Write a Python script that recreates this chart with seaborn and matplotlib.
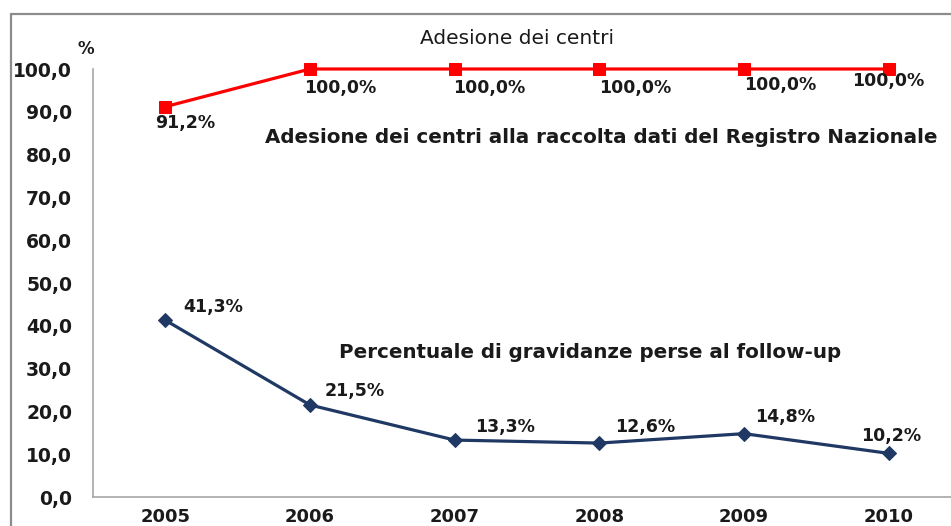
import matplotlib
matplotlib.use("Agg")
import matplotlib.pyplot as plt
import seaborn as sns
import pandas as pd
from matplotlib.lines import Line2D

years = [2005, 2006, 2007, 2008, 2009, 2010]
adesione = [91.2, 100.0, 100.0, 100.0, 100.0, 100.0]
perse = [41.3, 21.5, 13.3, 12.6, 14.8, 10.2]
adesione_labels = ["91,2%", "100,0%", "100,0%", "100,0%", "100,0%", "100,0%"]
perse_labels = ["41,3%", "21,5%", "13,3%", "12,6%", "14,8%", "10,2%"]
yticks = [0, 10, 20, 30, 40, 50, 60, 70, 80, 90, 100]
ytick_labels = ["0,0", "10,0", "20,0", "30,0", "40,0", "50,0", "60,0", "70,0", "80,0", "90,0", "100,0"]

sns.set_theme(style="white")
plt.rcParams["font.family"] = ["DejaVu Sans"]

W, H = 951, 526
fig = plt.figure(figsize=(W / 100, H / 100), dpi=100)
ax = fig.add_axes([93 / W, (H - 497) / H, (961 - 93) / W, (497 - 69) / H])

df_a = pd.DataFrame({"anno": years, "valore": adesione})
df_p = pd.DataFrame({"anno": years, "valore": perse})

red = "#FF0000"
navy = "#1F3864"
sns.lineplot(data=df_a, x="anno", y="valore", ax=ax, color=red, linewidth=2.3,
             marker="s", markersize=8, markeredgecolor=red, clip_on=False)
sns.lineplot(data=df_p, x="anno", y="valore", ax=ax, color=navy, linewidth=2.3,
             marker="D", markersize=7.5, markeredgecolor=navy, clip_on=False)

ax.set_xlim(2004.5, 2010.5)
ax.set_ylim(0, 100)
ax.set_xlabel("")
ax.set_ylabel("")

txt = "#1a1a1a"
# y axis
ax.set_yticks(yticks)
ax.set_yticklabels(ytick_labels, fontsize=13.5, fontweight="bold", color=txt)
# x axis: tick marks between categories, labels at centres
ax.set_xticks([y - 0.5 for y in years] + [years[-1] + 0.5])
ax.set_xticklabels([])
ax.set_xticks(years, minor=True)
ax.set_xticklabels([str(y) for y in years], minor=True, fontsize=13,
                   fontweight="bold", color=txt)
ax.tick_params(axis="x", which="minor", length=0, pad=8)
ax.tick_params(axis="x", which="major", direction="out", length=5, width=1, color="#A6A6A6")
ax.tick_params(axis="y", direction="out", length=6, width=1, color="#A6A6A6", pad=9)

for s in ["top", "right"]:
    ax.spines[s].set_visible(False)
for s in ["left", "bottom"]:
    ax.spines[s].set_color("#A6A6A6")
    ax.spines[s].set_linewidth(1.2)
ax.grid(False)

# data labels
a_off = [(20, -16), (30, -19), (35, -19), (36, -19), (36, -16), (0, -12)]
p_off = [(48, 13), (45, 14), (50, 13), (46, 16), (41, 17), (2, 17)]
for x, y, lab, off in zip(years, adesione, adesione_labels, a_off):
    ax.annotate(lab, (x, y), xytext=off, textcoords="offset pixels",
                ha="center", va="center", fontsize=12.5, fontweight="bold", color=txt)
for x, y, lab, off in zip(years, perse, perse_labels, p_off):
    ax.annotate(lab, (x, y), xytext=off, textcoords="offset pixels",
                ha="center", va="center", fontsize=12.5, fontweight="bold", color=txt)

# texts
fig.text(86 / W, 1 - 49 / H, "%", ha="center", va="center", fontsize=12, fontweight="bold", color=txt)
fig.text(517 / W, 1 - 39 / H, "Adesione dei centri", ha="center", va="center", fontsize=14.5, color=txt)
fig.text(601 / W, 1 - 137 / H, "Adesione dei centri alla raccolta dati del Registro Nazionale",
         ha="center", va="center", fontsize=14.3, fontweight="bold", color=txt)
fig.text(590 / W, 1 - 352 / H, "Percentuale di gravidanze perse al follow-up",
         ha="center", va="center", fontsize=14.3, fontweight="bold", color=txt)

# outer border (chart frame, cropped at right and bottom)
fig.add_artist(Line2D([10.5 / W, 10.5 / W], [0, 1 - 14 / H], transform=fig.transFigure,
                      color="#8C8C8C", linewidth=1.6))
fig.add_artist(Line2D([10.5 / W, 1], [1 - 14 / H, 1 - 14 / H], transform=fig.transFigure,
                      color="#8C8C8C", linewidth=1.6))

fig.savefig("out.png", dpi=100)
